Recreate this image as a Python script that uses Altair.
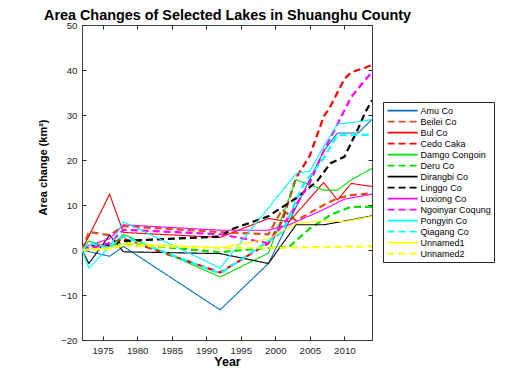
import altair as alt
import pandas as pd

LAKES = ["Amu Co", "Beilei Co", "Bul Co", "Cedo Caka", "Damgo Congoin", "Deru Co",
         "Dirangbi Co", "Linggo Co", "Luxiong Co", "Ngoinyar Coqung", "Pongyin Co",
         "Qiagang Co", "Unnamed1", "Unnamed2"]

AMU_YEARS = [1972, 1976, 1978, 1992, 1999, 2007, 2009, 2012, 2014]
AMU = [0, -1.4, 0.8, -13.3, -3.0, 22.0, 26.0, 26.0, 29.0]
BEILEI_YEARS = [1972, 1973, 1976, 1978, 1992, 1999, 2001, 2003, 2007, 2009, 2011, 2014]
BEILEI = [0, 4.0, 3.3, 5.3, 4.0, 3.5, 9.0, 6.5, 10.0, 11.5, 12.2, 12.6]
BUL_YEARS = [1972, 1976, 1978, 1992, 1999, 2002, 2007, 2009, 2011, 2014]
BUL = [0, 12.4, 3.9, 2.8, 7.0, 6.3, 15.0, 11.1, 14.8, 14.1]
CEDO_YEARS = [1972, 1976, 1978, 1992, 1999, 2001, 2003, 2005, 2007, 2008, 2010, 2011, 2013, 2014]
CEDO = [0, 1.5, 2.5, -5.0, 1.5, 6.5, 16.0, 21.0, 29.6, 32.0, 38.0, 39.5, 40.5, 41.1]
DAMGO_YEARS = [1972, 1973, 1976, 1978, 1992, 1999, 2003, 2005, 2007, 2009, 2011, 2014]
DAMGO = [0, 2.0, 0.5, 3.5, -6.0, -0.7, 15.6, 14.5, 13.3, 13.3, 15.6, 18.1]
DERU_YEARS = [1972, 1976, 1978, 1992, 1999, 2002, 2005, 2008, 2011, 2014]
DERU = [0, 0.5, 1.5, -0.5, 0.5, 0.7, 4.8, 7.8, 9.6, 9.6]
DIRANGBI_YEARS = [1972, 1973, 1976, 1978, 1992, 1999, 2003, 2007, 2011, 2014]
DIRANGBI = [0, -3.0, 3.3, -0.4, -0.8, -3.0, 5.6, 5.6, 6.7, 7.6]
LINGGO_YEARS = [1972, 1973, 1976, 1978, 1992, 1994, 1999, 2003, 2006, 2008, 2010, 2012, 2013, 2014]
LINGGO = [0, 1.0, 1.0, 2.0, 3.0, 4.8, 7.5, 11.5, 15.2, 19.3, 20.7, 27.0, 30.5, 33.3]
LUXIONG_YEARS = [1972, 1973, 1976, 1978, 1992, 1999, 2002, 2007, 2010, 2014]
LUXIONG = [0, 1.0, 2.5, 5.6, 4.4, 4.4, 5.6, 9.0, 11.3, 12.4]
NGOINYAR_YEARS = [1972, 1976, 1978, 1992, 1999, 2002, 2005, 2007, 2009, 2011, 2013, 2014]
NGOINYAR = [0, 1.5, 4.5, 3.5, 1.5, 7.4, 15.0, 22.0, 28.0, 34.0, 37.8, 39.5]
PONGYIN_YEARS = [1972, 1973, 1976, 1978, 1992, 2003, 2005, 2007, 2009, 2012, 2014]
PONGYIN = [0, -4.0, 0.7, 6.3, -4.0, 17.0, 17.5, 23.0, 28.0, 28.5, 29.0]
QIAGANG_YEARS = [1972, 1973, 1976, 1978, 1992, 2001, 2004, 2007, 2008, 2009, 2014]
QIAGANG = [0, 1.5, 0.5, 3.0, -5.2, 4.0, 14.4, 20.4, 23.0, 25.5, 25.6]
UNNAMED1_YEARS = [1972, 1976, 1978, 1992, 1999, 2003, 2007, 2010, 2014]
UNNAMED1 = [0, 0.5, 1.5, 0.5, 2.5, 5.9, 6.5, 6.3, 7.5]
UNNAMED2_YEARS = [1972, 1976, 1978, 1992, 1999, 2014]
UNNAMED2 = [0, 0.3, 1.0, 0.5, 0.5, 0.8]

SERIES = [
    (AMU_YEARS, AMU), (BEILEI_YEARS, BEILEI), (BUL_YEARS, BUL), (CEDO_YEARS, CEDO),
    (DAMGO_YEARS, DAMGO), (DERU_YEARS, DERU), (DIRANGBI_YEARS, DIRANGBI),
    (LINGGO_YEARS, LINGGO), (LUXIONG_YEARS, LUXIONG), (NGOINYAR_YEARS, NGOINYAR),
    (PONGYIN_YEARS, PONGYIN), (QIAGANG_YEARS, QIAGANG), (UNNAMED1_YEARS, UNNAMED1),
    (UNNAMED2_YEARS, UNNAMED2),
]

TITLE = "Area Changes of Selected Lakes in Shuanghu County"

COLORS = ["#0072BD", "#D95319", "#FF0000", "#FF0000", "#00E000", "#00E000",
          "#000000", "#000000", "#FF00FF", "#FF00FF", "#00FFFF", "#00FFFF",
          "#FFFF00", "#FFFF00"]
DASHED = [i % 2 == 1 for i in range(len(LAKES))]
DASH_RANGE = [[7, 4] if d else [1, 0] for d in DASHED]

X_TICKS = [1975, 1980, 1985, 1990, 1995, 2000, 2005, 2010]
Y_TICKS = [-20, -10, 0, 10, 20, 30, 40, 50]

rows = []
for k, (lake, (yrs, vals)) in enumerate(zip(LAKES, SERIES)):
    for yr, v in zip(yrs, vals):
        rows.append({"lake": lake, "year": yr, "change": v, "k": k,
                     "w": 2.2 if DASHED[k] else 1.1})
df = pd.DataFrame(rows)

FONT = "Liberation Sans"
AX = "#262626"

xscale = alt.Scale(domain=[1972, 2014], nice=False, zero=False)
yscale = alt.Scale(domain=[-20, 50], nice=False, zero=False)

common_axis = dict(offset=-4, tickSize=4, domain=False, grid=False, tickColor=AX,
                   labelColor=AX, labelFont=FONT, labelFontSize=9.7, minExtent=0)

legend = alt.Legend(
    title=None, orient="none", legendX=301, legendY=77,
    symbolType="M-3,0H3", symbolSize=100, padding=2.6, rowPadding=0,
    symbolOffset=11, labelOffset=12, labelFontSize=9, labelFont=FONT,
    labelColor="black", strokeColor=AX, fillColor="white", labelLimit=200,
    symbolStrokeWidth=1.6,
)

lines = alt.Chart(df).mark_line(clip=True).encode(
    x=alt.X("year:Q", scale=xscale,
            axis=alt.Axis(values=X_TICKS, format="d", labelPadding=5, title="Year",
                          titleFont=FONT, titleFontSize=12.5, titleFontWeight="bold",
                          titleColor="black", titleBaseline="alphabetic", titleY=29.5,
                          **common_axis)),
    y=alt.Y("change:Q", scale=yscale,
            axis=alt.Axis(values=Y_TICKS, labelPadding=5, title="Area change (km²)",
                          titleFont=FONT, titleFontSize=11, titleFontWeight="bold",
                          titleColor="black", titleBaseline="middle", titleX=-43,
                          titleY=142, **common_axis)),
    color=alt.Color("lake:N", scale=alt.Scale(domain=LAKES, range=COLORS), legend=legend),
    strokeDash=alt.StrokeDash("lake:N", scale=alt.Scale(domain=LAKES, range=DASH_RANGE), legend=legend),
    strokeWidth=alt.StrokeWidth("w:Q", scale=None, legend=None),
    order=alt.Order("year:Q"),
)

frame = alt.Chart(df).mark_line(opacity=0).encode(
    x=alt.X("year:Q", scale=xscale,
            axis=alt.Axis(orient="top", values=X_TICKS, labels=False, title=TITLE,
                          titleFont=FONT, titleFontSize=14.4, titleFontWeight="bold",
                          titleColor="black", titleAlign="center", titleAnchor="middle",
                          titleBaseline="alphabetic", titleX=145, titleY=-9.5,
                          **common_axis)),
    y=alt.Y("change:Q", scale=yscale,
            axis=alt.Axis(orient="right", values=Y_TICKS, labels=False, title=None, **common_axis)),
    detail="lake:N",
)

chart = alt.layer(lines, frame).resolve_axis(x="independent", y="independent").properties(
    width=290, height=315,
    padding={"left": 74, "top": 17, "right": 150, "bottom": 31},
    autosize=alt.AutoSizeParams(type="none"),
).configure_view(stroke="#404040", strokeWidth=1)

chart.save("out.html", embed_options={"renderer": "svg", "actions": False})
